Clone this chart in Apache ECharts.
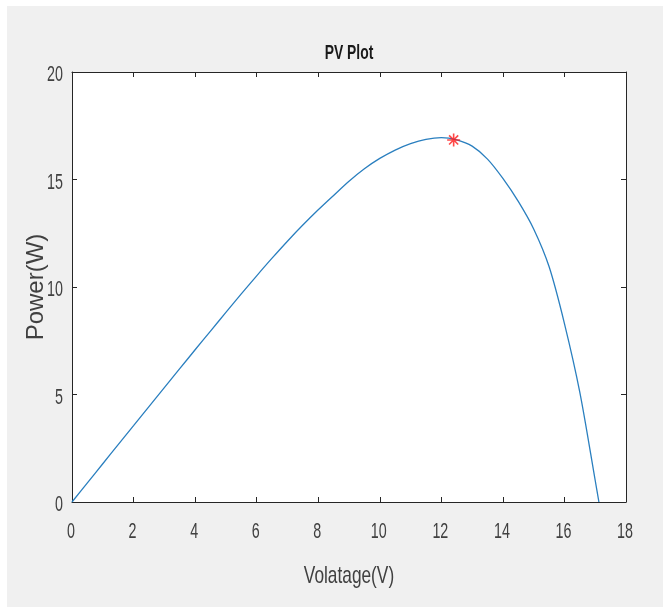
<!DOCTYPE html>
<html>
<head>
<meta charset="utf-8">
<script src="https://cdn.jsdelivr.net/npm/echarts@6/dist/echarts.min.js"></script>
<style>
  body { margin: 0; background: #fff; }
  #wrap { position: relative; width: 663px; height: 614px; }
  #bg { position: absolute; left: 7px; top: 6px; width: 656px; height: 601px; background: #f0f0f0; }
  #main { position: absolute; left: 0; top: 0; width: 663px; height: 614px; }
</style>
</head>
<body>
<div id="wrap">
  <div id="bg"></div>
  <div id="main"></div>
</div>
<script>
// PV curve (every 0.5 V)
let voltage = [0, 0.5, 1, 1.5, 2, 2.5, 3, 3.5, 4, 4.5, 5, 5.5, 6, 6.5, 7, 7.5, 8, 8.5, 9, 9.5,
    10, 10.5, 11, 11.5, 12, 12.5, 13, 13.5, 14, 14.5, 15, 15.5, 16, 16.5, 17, 17.12]
let power = [0, 0.89, 1.78, 2.67, 3.55, 4.44, 5.32, 6.2, 7.08, 7.95, 8.82, 9.68, 10.52, 11.34, 12.13, 12.88, 13.59, 14.26, 14.92, 15.5,
    15.98, 16.37, 16.67, 16.87, 16.95, 16.84, 16.55, 15.95, 15.05, 13.98, 12.7, 10.95, 8.3, 5.1, 1.0, 0]
let mpp = [12.4, 16.84]
let xTicks = [0, 2, 4, 6, 8, 10, 12, 14, 16, 18]
let yTicks = [0, 5, 10, 15, 20]

let font = '"Liberation Sans", Arial, sans-serif'
let textColor = '#404040'
let axisColor = '#262626'

let chart = echarts.init(document.getElementById('main'))

let baseX = {
    type: 'value',
    min: xTicks[0],
    max: xTicks[xTicks.length - 1],
    interval: 2,
    splitLine: { show: false },
    axisLabel: { show: false },
    axisLine: { show: true, onZero: false, lineStyle: { color: axisColor, width: 1 } },
    axisTick: { show: true, inside: true, length: 5, lineStyle: { color: axisColor } }
}
let baseY = {
    type: 'value',
    min: yTicks[0],
    max: yTicks[yTicks.length - 1],
    interval: 5,
    splitLine: { show: false },
    axisLabel: { show: false },
    axisLine: { show: true, onZero: false, lineStyle: { color: axisColor, width: 1 } },
    axisTick: { show: true, inside: true, length: 5, lineStyle: { color: axisColor } }
}

let option = {
    animation: false,
    grid: {
        left: 72,
        right: 37,
        top: 72,
        bottom: 112,
        show: true,
        backgroundColor: '#ffffff',
        borderWidth: 0
    },
    xAxis: [
        Object.assign({}, baseX, { position: 'bottom' }),
        Object.assign({}, baseX, { position: 'top' })
    ],
    yAxis: [
        Object.assign({}, baseY, {
            position: 'left',
            name: 'Power(W)',
            nameLocation: 'middle',
            nameGap: 24,
            nameRotate: 90,
            nameTextStyle: { fontFamily: font, fontSize: 24, color: textColor }
        }),
        Object.assign({}, baseY, { position: 'right' })
    ],
    series: [
        {
            name: 'PV',
            type: 'line',
            data: voltage.map((v, i) => [v, power[i]]),
            smooth: 0.3,
            showSymbol: false,
            symbol: 'none',
            lineStyle: { color: '#2a7fbf', width: 1.3 },
            silent: true
        },
        {
            name: 'MPP',
            type: 'scatter',
            data: [mpp],
            symbol: 'path://M0,-10L0,10M-10,0L10,0M-7,-7L7,7M-7,7L7,-7',
            symbolSize: 13,
            itemStyle: { color: 'none', borderColor: '#ff1a1a', borderWidth: 1.6 },
            silent: true,
            z: 5
        }
    ]
}
chart.setOption(option)

// narrow (squeezed) texts like the original figure
let squeeze = 0.65
let labels = []
xTicks.forEach(v => {
    let px = chart.convertToPixel({ xAxisIndex: 0 }, v)
    labels.push({
        type: 'text', x: px - 1, y: 532, scaleX: squeeze, silent: true,
        style: { text: String(v), fontFamily: font, fontSize: 22, fill: textColor, align: 'center', verticalAlign: 'middle' }
    })
})
yTicks.forEach(v => {
    let py = chart.convertToPixel({ yAxisIndex: 0 }, v)
    labels.push({
        type: 'text', x: 63, y: py + 3, scaleX: squeeze, silent: true,
        style: { text: String(v), fontFamily: font, fontSize: 22, fill: textColor, align: 'right', verticalAlign: 'middle' }
    })
})
labels.push({
    type: 'text', x: 349, y: 53, scaleX: 0.66, silent: true,
    style: { text: 'PV Plot', fontFamily: font, fontWeight: 'bold', fontSize: 21, fill: '#1a1a1a', align: 'center', verticalAlign: 'middle' }
})
labels.push({
    type: 'text', x: 349, y: 576, scaleX: 0.72, silent: true,
    style: { text: 'Volatage(V)', fontFamily: font, fontSize: 24, fill: textColor, align: 'center', verticalAlign: 'middle' }
})
chart.setOption({ graphic: labels })
</script>
</body>
</html>
